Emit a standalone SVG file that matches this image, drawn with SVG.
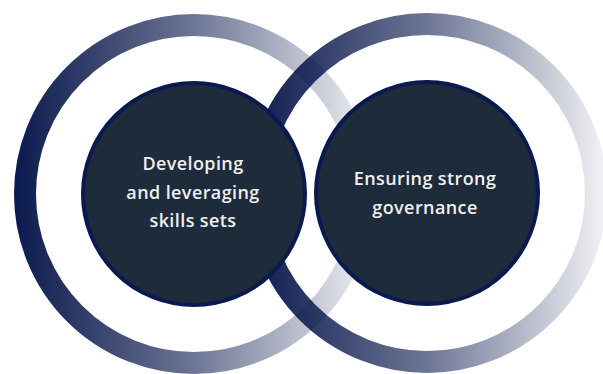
<svg xmlns="http://www.w3.org/2000/svg" width="603" height="374" viewBox="0 0 603 374">
  <defs>
    <linearGradient id="gL" gradientUnits="userSpaceOnUse" x1="14" y1="0" x2="374" y2="0">
      <stop offset="0" stop-color="#0b1a4e" stop-opacity="1"/>
      <stop offset="0.5" stop-color="#0b1a4e" stop-opacity="0.6"/>
      <stop offset="1" stop-color="#0b1a4e" stop-opacity="0.05"/>
    </linearGradient>
    <linearGradient id="gR" gradientUnits="userSpaceOnUse" x1="247" y1="0" x2="607" y2="0">
      <stop offset="0" stop-color="#0b1a4e" stop-opacity="1"/>
      <stop offset="0.5" stop-color="#0b1a4e" stop-opacity="0.6"/>
      <stop offset="1" stop-color="#0b1a4e" stop-opacity="0.05"/>
    </linearGradient>
  </defs>
  <style>
    .ring { fill: none; stroke-width: 22; }
    .core { fill: #1e2b3a; stroke: #0a1a50; stroke-width: 4; }
    .lbl { font-family: "Open Sans", "Liberation Sans", sans-serif; font-size: 18px; font-weight: 600; letter-spacing: 0.4px; fill: #eef0f2; text-anchor: middle; }
  </style>
  <rect width="603" height="374" fill="#ffffff"/>
  <g id="rings">
    <circle class="ring" cx="194" cy="194" r="169" stroke="url(#gL)"/>
    <circle class="ring" cx="427" cy="193" r="169" stroke="url(#gR)"/>
  </g>
  <g id="node-skills">
    <circle class="core" cx="194" cy="194" r="111"/>
    <text class="lbl" x="193" y="170">Developing</text>
    <text class="lbl" x="193" y="198.5">and leveraging</text>
    <text class="lbl" x="193" y="227">skills sets</text>
  </g>
  <g id="node-governance">
    <circle class="core" cx="427" cy="193" r="111"/>
    <text class="lbl" x="425" y="185">Ensuring strong</text>
    <text class="lbl" x="425" y="213.5">governance</text>
  </g>
</svg>
